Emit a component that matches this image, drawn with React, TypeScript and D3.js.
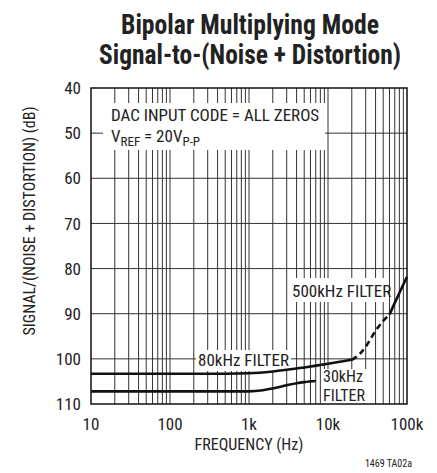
import React from "react";
import * as d3 from "d3";

const W = 437;
const H = 473;
const FONT = "'Liberation Sans Narrow', 'Arial Narrow', 'Roboto Condensed', 'Liberation Sans', sans-serif";

const xTicks = [10, 100, 1000, 10000, 100000];
const xTickLabels = ["10", "100", "1k", "10k", "100k"];
const yTicks = [40, 50, 60, 70, 80, 90, 100, 110];

const f80 = [10, 100, 500, 1000, 2000, 5000, 10000, 20000];
const s80 = [103.3, 103.3, 103.3, 103.2, 102.8, 101.9, 101.1, 100.2];

const f500dash = [20000, 25000, 30000, 40000, 50000, 60000];
const s500dash = [100.2, 99.0, 97.3, 93.8, 91.6, 90.2];

const f500 = [60000, 70000, 80000, 100000];
const s500 = [90.2, 87.6, 85.4, 81.8];

const f30 = [10, 100, 1000, 1500, 2000, 3000, 4000, 5000, 7000];
const s30 = [107.2, 107.2, 107.2, 106.95, 106.55, 105.85, 105.4, 105.15, 104.9];

export default function App() {
  const x = d3.scaleLog().domain([10, 100000]).range([91, 407]);
  const y = d3.scaleLinear().domain([40, 110]).range([88, 404]);

  const minor: number[] = [];
  for (let d = 10; d < 100000; d *= 10) {
    for (let k = 1; k <= 9; k++) {
      const v = d * k;
      if (v > 10 && v < 100000) minor.push(v);
    }
  }

  const line = d3
    .line<[number, number]>()
    .x((d) => x(d[0]))
    .y((d) => y(d[1]))
    .curve(d3.curveMonotoneX);

  const zip = (a: number[], b: number[]) => a.map((v, i) => [v, b[i]] as [number, number]);

  const [x0, x1] = x.range();
  const [y0, y1] = y.range();

  return (
    <svg
      width={W}
      height={H}
      style={{ position: "absolute", left: 0, top: 0, background: "#fff" }}
      fontFamily={FONT}
    >
      {/* title */}
      <text x={250} y={34} textAnchor="middle" fontWeight="bold" fontSize={27} fill="#222"
        textLength={258} lengthAdjust="spacingAndGlyphs">Bipolar Multiplying Mode</text>
      <text x={250} y={64} textAnchor="middle" fontWeight="bold" fontSize={27} fill="#222"
        textLength={302} lengthAdjust="spacingAndGlyphs">Signal-to-(Noise + Distortion)</text>

      {/* grid */}
      {minor.map((v) => (
        <line key={"v" + v} x1={x(v)} x2={x(v)} y1={y0} y2={y1} stroke="#333" strokeWidth={1} />
      ))}
      {yTicks.slice(1, -1).map((v) => (
        <line key={"h" + v} x1={x0} x2={x1} y1={y(v)} y2={y(v)} stroke="#333" strokeWidth={1} />
      ))}

      {/* label backgrounds */}
      <rect x={103} y={103} width={222} height={47} fill="#fff" />
      <rect x={289} y={278} width={100} height={24} fill="#fff" />
      <rect x={196} y={350} width={95} height={21} fill="#fff" />
      <rect x={321} y={369} width={50} height={35} fill="#fff" />

      {/* frame */}
      <rect x={x0} y={y0} width={x1 - x0} height={y1 - y0} fill="none" stroke="#111" strokeWidth={1.5} />

      {/* curves */}
      <path d={line(zip(f80, s80)) || ""} fill="none" stroke="#111" strokeWidth={2.6} />
      <path d={line(zip(f30, s30)) || ""} fill="none" stroke="#111" strokeWidth={2.6} />
      <path d={line(zip(f500dash, s500dash)) || ""} fill="none" stroke="#111" strokeWidth={2.6} strokeDasharray="6,4" />
      <path d={line(zip(f500, s500)) || ""} fill="none" stroke="#111" strokeWidth={2.6} />

      {/* y tick labels */}
      {yTicks.map((v) => (
        <text key={"yt" + v} x={81} y={y(v)} dy="0.36em" textAnchor="end" fontSize={17} fill="#222">
          {v}
        </text>
      ))}
      {/* x tick labels */}
      {xTicks.map((v, i) => (
        <text key={"xt" + v} x={x(v)} y={430} textAnchor="middle" fontSize={17} fill="#222">
          {xTickLabels[i]}
        </text>
      ))}

      {/* axis titles */}
      <text x={249} y={450} textAnchor="middle" fontSize={16} fill="#222">FREQUENCY (Hz)</text>
      <text transform="translate(35,221) rotate(-90)" textAnchor="middle" fontSize={16} fill="#222">
        SIGNAL/(NOISE + DISTORTION) (dB)
      </text>

      {/* annotations */}
      <text x={111} y={121} fontSize={17} fill="#222">DAC INPUT CODE = ALL ZEROS</text>
      <text x={111} y={142} fontSize={17} fill="#222">
        V<tspan fontSize={13} dy={4}>REF</tspan>
        <tspan dy={-4}> = 20V</tspan>
        <tspan fontSize={13} dy={4}>P-P</tspan>
      </text>
      <text x={292} y={297} fontSize={17} fill="#222">500kHz FILTER</text>
      <text x={198} y={366} fontSize={17} fill="#222">80kHz FILTER</text>
      <text x={323} y={382} fontSize={16} fill="#222">30kHz</text>
      <text x={323} y={401} fontSize={16} fill="#222">FILTER</text>

      <text x={412} y={467} textAnchor="end" fontSize={10} fill="#222">1469 TA02a</text>
    </svg>
  );
}
